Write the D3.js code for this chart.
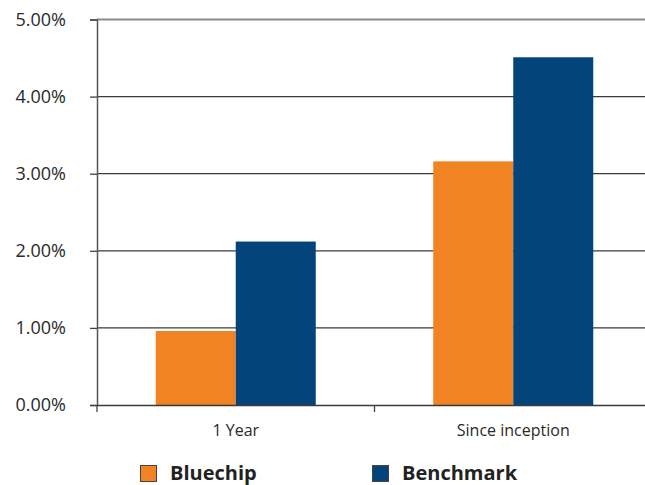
<!DOCTYPE html>
<html>
<head>
<meta charset="utf-8">
<script src="https://cdn.jsdelivr.net/npm/d3@7/dist/d3.min.js"></script>
<style>
  html, body { margin: 0; padding: 0; background: #fff; }
  svg { display: block; font-family: "Open Sans", "Noto Sans", sans-serif; }
</style>
</head>
<body>
<svg id="chart" width="645" height="485"></svg>
<script>
// Returns by period
const categories = ["1 Year", "Since inception"];
const seriesNames = ["Bluechip", "Benchmark"];
const bluechip = [0.96, 3.16];
const benchmark = [2.12, 4.51];
const yTicks = [0, 1, 2, 3, 4, 5];
const colors = ["#F28322", "#03447A"];

const svg = d3.select("#chart");
const margin = { left: 97, top: 19.5, bottom: 405 };
const plotRight = 652;

const x = d3.scaleBand().domain(categories).range([margin.left, plotRight]).padding(0);
const sub = d3.scaleBand().domain(seriesNames).range([0, 160]);
const y = d3.scaleLinear().domain([0, 5]).range([margin.bottom, margin.top]);

// Horizontal gridlines
svg.append("g").selectAll("line")
  .data(yTicks.filter(d => d > 0))
  .join("line")
  .attr("x1", margin.left).attr("x2", plotRight)
  .attr("y1", d => y(d)).attr("y2", d => y(d))
  .attr("stroke", d => d === 5 ? "#8a8a8a" : "#3a3a3a")
  .attr("stroke-width", d => d === 5 ? 2 : 1.3);

// Bars
const rows = categories.map((c, i) => ({ cat: c, vals: [bluechip[i], benchmark[i]] }));
const groups = svg.append("g").selectAll("g")
  .data(rows).join("g")
  .attr("transform", d => `translate(${x(d.cat) + (x.bandwidth() - 160) / 2},0)`);
groups.selectAll("rect")
  .data(d => d.vals.map((v, j) => ({ name: seriesNames[j], v, j })))
  .join("rect")
  .attr("x", d => sub(d.name))
  .attr("width", sub.bandwidth())
  .attr("y", d => y(d.v))
  .attr("height", d => y(0) - y(d.v))
  .attr("fill", d => colors[d.j]);

// Y axis
const yAxis = d3.axisLeft(y).tickValues(yTicks).tickSize(7).tickPadding(24)
  .tickFormat(d => d.toFixed(2) + "%");
const gy = svg.append("g").attr("transform", `translate(${margin.left},0)`).call(yAxis);
gy.select(".domain").attr("stroke", "#555").attr("stroke-width", 1.5);
gy.selectAll(".tick line").attr("stroke", "#444").attr("stroke-width", 1.3);
gy.selectAll(".tick text").attr("font-size", 18).attr("fill", "#2a2a2a")
  .attr("font-family", "'Open Sans', sans-serif");

// X axis
const gx = svg.append("g").attr("transform", `translate(0,${margin.bottom})`)
  .call(d3.axisBottom(x).tickSize(0).tickPadding(20));
gx.select(".domain").attr("stroke", "#3a3a3a").attr("stroke-width", 1.5);
gx.selectAll(".tick text").attr("font-size", 16).attr("fill", "#2a2a2a")
  .attr("font-family", "'Open Sans', sans-serif");
// Category boundary ticks
svg.append("g").selectAll("line")
  .data(categories)
  .join("line")
  .attr("x1", d => x(d)).attr("x2", d => x(d))
  .attr("y1", margin.bottom).attr("y2", margin.bottom + 7)
  .attr("stroke", "#444").attr("stroke-width", 1.3);

// Legend
const legendX = [140, 372];
const legend = svg.append("g").selectAll("g")
  .data(seriesNames).join("g")
  .attr("transform", (d, i) => `translate(${legendX[i]},465)`);
legend.append("rect")
  .attr("x", 0.5).attr("y", 0.5)
  .attr("width", 16).attr("height", 16)
  .attr("fill", (d, i) => colors[i])
  .attr("stroke", "#444").attr("stroke-width", 1);
legend.append("text")
  .attr("x", 30).attr("y", 15)
  .attr("font-size", 20).attr("font-weight", "bold").attr("fill", "#222")
  .text(d => d);
</script>
</body>
</html>
